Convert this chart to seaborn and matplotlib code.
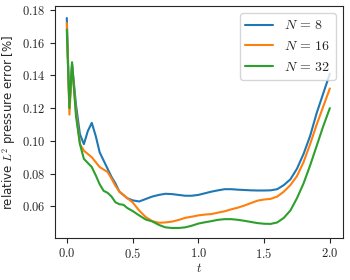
import numpy as np
import pandas as pd
import matplotlib
matplotlib.use("Agg")
import matplotlib.pyplot as plt
import seaborn as sns
from matplotlib.ticker import FuncFormatter

t = [0, 0.02, 0.04, 0.07, 0.1, 0.13, 0.16, 0.19, 0.22, 0.25, 0.28, 0.31, 0.34, 0.37,
     0.40, 0.43, 0.46, 0.5, 0.55, 0.6, 0.65, 0.7, 0.75, 0.8, 0.85, 0.9, 0.95, 1.0,
     1.05, 1.1, 1.15, 1.2, 1.25, 1.3, 1.35, 1.4, 1.45, 1.5, 1.55, 1.6, 1.65, 1.7,
     1.75, 1.8, 1.85, 1.9, 1.95, 2.0]

err_n8 = [0.175, 0.121, 0.147, 0.122, 0.104, 0.098, 0.106, 0.111, 0.103, 0.093, 0.088,
          0.083, 0.078, 0.074, 0.069, 0.067, 0.065, 0.0637, 0.063, 0.0645, 0.066, 0.067,
          0.0677, 0.0675, 0.067, 0.0665, 0.0665, 0.067, 0.068, 0.069, 0.0698, 0.0705,
          0.0705, 0.0702, 0.070, 0.0698, 0.0697, 0.0697, 0.0698, 0.0705, 0.073, 0.0765,
          0.083, 0.092, 0.103, 0.117, 0.129, 0.141]

err_n16 = [0.172, 0.116, 0.146, 0.118, 0.098, 0.094, 0.092, 0.090, 0.087, 0.084, 0.0825,
           0.081, 0.077, 0.0725, 0.069, 0.067, 0.065, 0.0625, 0.0575, 0.0535, 0.051, 0.050,
           0.0502, 0.0507, 0.0517, 0.053, 0.0537, 0.0545, 0.055, 0.0553, 0.0562, 0.057,
           0.0582, 0.0592, 0.0605, 0.062, 0.0635, 0.0642, 0.0646, 0.066, 0.069, 0.073,
           0.0785, 0.087, 0.098, 0.110, 0.121, 0.132]

err_n32 = [0.168, 0.120, 0.148, 0.115, 0.098, 0.089, 0.0865, 0.084, 0.079, 0.0735, 0.0695,
           0.0683, 0.066, 0.0625, 0.0613, 0.061, 0.059, 0.0572, 0.0545, 0.052, 0.0508,
           0.0487, 0.0472, 0.0468, 0.0468, 0.0472, 0.0482, 0.0495, 0.0503, 0.051, 0.0518,
           0.0522, 0.0522, 0.0518, 0.0512, 0.0505, 0.0498, 0.0494, 0.0493, 0.0502, 0.053,
           0.0575, 0.065, 0.074, 0.085, 0.097, 0.109, 0.120]

labels = [r"$N\,=\,8$", r"$N\,=\,16$", r"$N\,=\,32$"]

df = pd.concat([
    pd.DataFrame({"t": t, "err": e, "N": lab})
    for e, lab in zip([err_n8, err_n16, err_n32], labels)
], ignore_index=True)

sns.set_style("ticks")
plt.rcParams["mathtext.fontset"] = "cm"
plt.rcParams["font.family"] = ["DejaVu Sans"]

fig = plt.figure(figsize=(3.5, 2.8), dpi=100)
ax = fig.add_axes([0.157, 0.15, 0.823, 0.829])
sns.lineplot(data=df, x="t", y="err", hue="N", hue_order=labels,
             palette=["#1f77b4", "#ff7f0e", "#2ca02c"], linewidth=1.5, ax=ax)

ax.set_ylim(0.0407, 0.1824)
ax.set_xlim(-0.09, 2.1)
ax.set_yticks([0.06, 0.08, 0.10, 0.12, 0.14, 0.16, 0.18])
ax.set_xticks([0.0, 0.5, 1.0, 1.5, 2.0])
ax.yaxis.set_major_formatter(FuncFormatter(lambda v, p: f"${v:.2f}$"))
ax.xaxis.set_major_formatter(FuncFormatter(lambda v, p: f"${v:.1f}$"))
ax.tick_params(labelsize=9, length=3.5, width=0.8, pad=3)
ax.set_xlabel(r"$t$", fontsize=9, labelpad=1)
ax.set_ylabel(r"relative $L^2$ pressure error [%]", fontsize=8.5, labelpad=3)
for s in ax.spines.values():
    s.set_linewidth(0.8)
    s.set_visible(True)
leg = ax.legend(loc="upper right", fontsize=10, frameon=True, handlelength=2.0)
leg.get_frame().set_edgecolor("#cccccc")
fig.savefig("out.png", dpi=100)
